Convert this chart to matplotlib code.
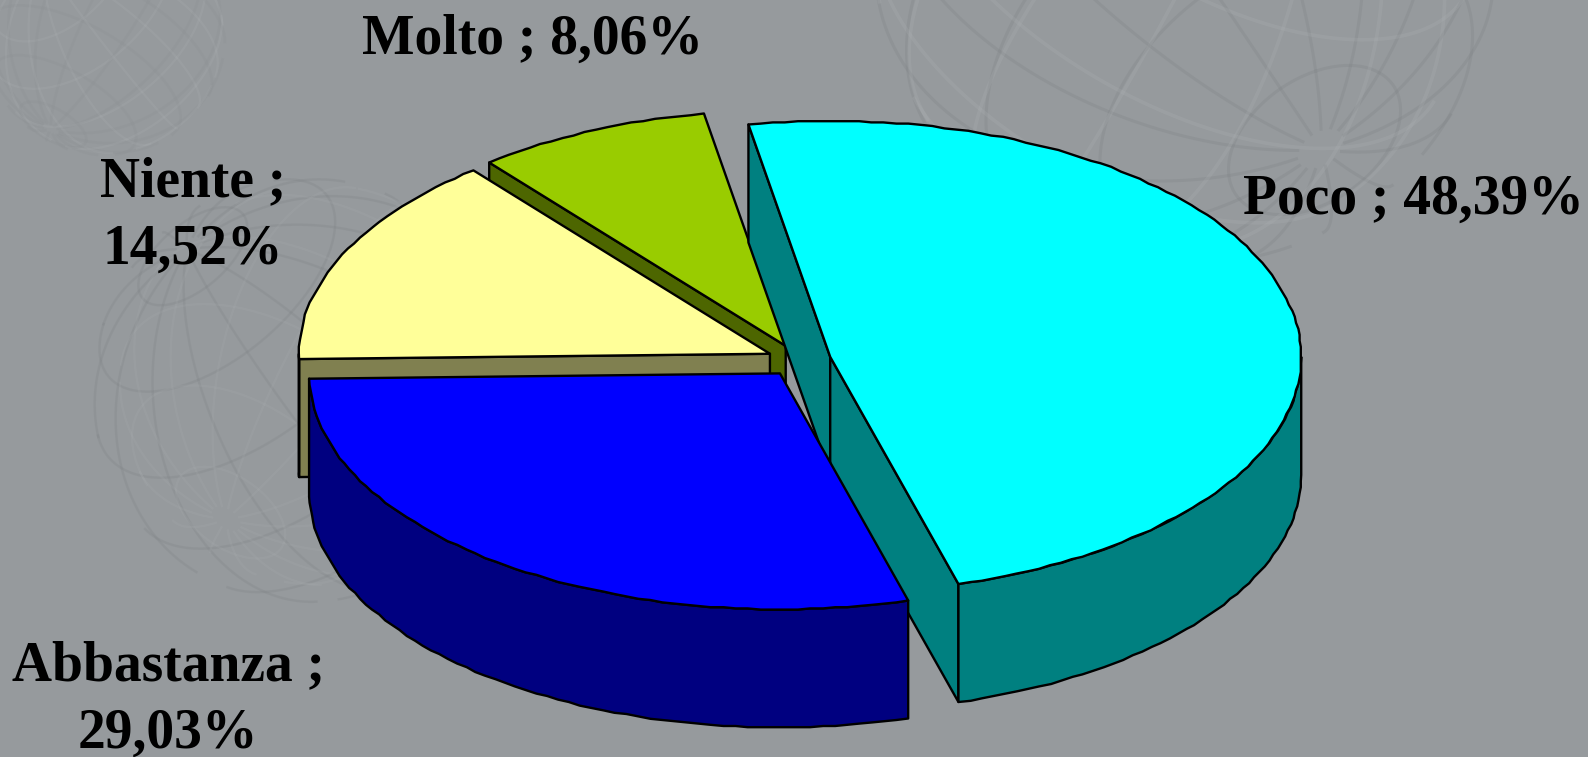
import numpy as np
import matplotlib
matplotlib.use("Agg")
import matplotlib.pyplot as plt
from matplotlib.patches import Polygon

# data
names = ["Poco", "Abbastanza", "Niente", "Molto"]
values = [48.39, 29.03, 14.52, 8.06]
tops = ["#00FFFF", "#0000FF", "#FFFF99", "#99CC00"]
sides = ["#008080", "#000080", "#808050", "#4D6600"]

# label text anchors in pixels
label_pos = [(1413, 214), (168, 680), (193, 196), (532, 54)]
label_wrap = [False, True, True, False]

# pie shape in pixels
CX, CY = 799, 360.5
RX, RY = 471, 236
DEPTH = 118
EXPLODE = 0.068
START = -10
BG = "#969A9D"
EDGE = dict(edgecolor="black", linewidth=1.7, joinstyle="round")

# which straight cuts of each wedge face the viewer (start, end)
cuts_seen = [(True, True), (False, False), (True, False), (True, False)]


def ell(theta, ox=0, oy=0):
    t = np.radians(theta)
    return ox + RX * np.sin(t), oy - RY * np.cos(t)


def arc(a, b, ox, oy, drop=0):
    # the source outline is a bit rough, so snap it to a small grid
    n = max(int(abs(b - a) / 1.5), 2)
    th = np.linspace(a, b, n + 1)
    x, y = ell(th, ox, oy)
    pts = np.column_stack([x, y + drop])
    pts[1:-1] = np.round(pts[1:-1] / 1.2) * 1.2
    return pts


def sphere(ax, cx, cy, r, tilt, spin, roll, color, alpha, lw):
    # faint wire ball of the slide background
    tl, sp, ro = np.radians(tilt), np.radians(spin), np.radians(roll)
    lines = []
    for lat in np.arange(-72, 73, 24):
        lon = np.linspace(0, 360, 181)
        lines.append((np.full_like(lon, lat), lon))
    for lon0 in np.arange(0, 360, 24):
        lat = np.linspace(-85, 85, 120)
        lines.append((lat, np.full_like(lat, lon0)))
    for la, lo in lines:
        la, lo = np.radians(la), np.radians(lo) + sp
        x = np.cos(la) * np.sin(lo)
        y = np.sin(la)
        z = np.cos(la) * np.cos(lo)
        y2 = y * np.cos(tl) - z * np.sin(tl)
        z2 = y * np.sin(tl) + z * np.cos(tl)
        x3 = x * np.cos(ro) - y2 * np.sin(ro)
        y3 = x * np.sin(ro) + y2 * np.cos(ro)
        px = cx + r * x3
        py = cy - r * y3
        px[z2 < 0] = np.nan
        ax.plot(px, py, color=color, alpha=alpha, lw=lw, zorder=1)


fig = plt.figure(figsize=(15.88, 7.57), dpi=100, facecolor=BG)
ax = fig.add_axes([0, 0, 1, 1])
ax.set_xlim(0, 1588)
ax.set_ylim(757, 0)
ax.axis("off")

sphere(ax, 105, 35, 118, 35, 20, 40, "#B4B8BA", 0.16, 1.6)
sphere(ax, 105, 35, 120, -25, 10, -30, "#83878A", 0.12, 2.0)
sphere(ax, 305, 390, 212, 30, 40, 40, "#7E8285", 0.25, 1.8)
sphere(ax, 320, 385, 200, -35, -15, -35, "#B2B6B8", 0.14, 1.6)
sphere(ax, 1185, -45, 310, -40, 25, 35, "#7E8285", 0.28, 2.2)
sphere(ax, 1175, -50, 300, 30, 5, -30, "#B2B6B8", 0.2, 2.6)

# wedges run clockwise from the top, each pushed out along its middle
edges = START + np.concatenate([[0], np.cumsum(values)]) * 3.6
wedges = []
for i in range(len(values)):
    a, b = edges[i], edges[i + 1]
    mid = (a + b) / 2
    ox = CX + EXPLODE * RX * np.sin(np.radians(mid))
    oy = CY - EXPLODE * RY * np.cos(np.radians(mid))
    wedges.append((a, b, ox, oy))

order = [3, 2, 0, 1]
for k, i in enumerate(order):
    a, b, ox, oy = wedges[i]
    z = 3 + k * 3
    for t, seen in zip((a, b), cuts_seen[i]):
        if not seen:
            continue
        px, py = ell(t, ox, oy)
        face = [(ox, oy), (px, py), (px, py + DEPTH), (ox, oy + DEPTH)]
        ax.add_patch(Polygon(face, closed=True, facecolor=sides[i], zorder=z, **EDGE))
    # outer rim, only the near half shows
    lo, hi = max(a, 90), min(b, 270)
    if lo < hi:
        top_edge = arc(lo, hi, ox, oy)
        low_edge = arc(hi, lo, ox, oy, DEPTH)
        ax.add_patch(Polygon(np.vstack([top_edge, low_edge]), closed=True,
                             facecolor=sides[i], zorder=z + 1, **EDGE))
    top = np.vstack([[(ox, oy)], arc(a, b, ox, oy)])
    ax.add_patch(Polygon(top, closed=True, facecolor=tops[i], zorder=z + 2, **EDGE))

font = dict(family="Liberation Serif", fontweight="bold", fontsize=40,
            color="black", ha="center", va="baseline", zorder=30)
for name, val, pos, wrap in zip(names, values, label_pos, label_wrap):
    num = f"{val:.2f}%".replace(".", ",")
    if wrap:
        ax.text(pos[0], pos[1], f"{name} ;", **font)
        ax.text(pos[0], pos[1] + 68, num, **font)
    else:
        ax.text(pos[0], pos[1], f"{name} ; {num}", **font)

fig.savefig("out.png", dpi=100, facecolor=BG)
